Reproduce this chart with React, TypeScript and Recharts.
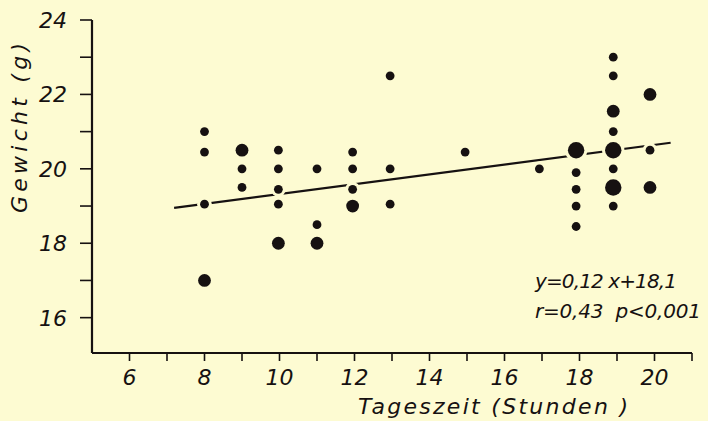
import React from 'react';
import { ScatterChart, Scatter, XAxis, YAxis } from 'recharts';

// hour of day (columns sit slightly left of the ticks late in the day)
const HOURS = [
  8, 8, 8, 8,
  9, 9, 9,
  9.97, 9.97, 9.97, 9.97, 9.97,
  11, 11, 11,
  11.95, 11.95, 11.95, 11.95,
  12.95, 12.95, 12.95,
  14.95,
  16.93,
  17.91, 17.91, 17.91, 17.91, 17.91,
  18.9, 18.9, 18.9, 18.9, 18.9, 18.9, 18.9, 18.9,
  19.88, 19.88, 19.88,
];

// body weight in g
const WEIGHTS = [
  21.0, 20.45, 19.05, 17.0,
  20.5, 20.0, 19.5,
  20.5, 20.0, 19.45, 19.05, 18.0,
  20.0, 18.5, 18.0,
  20.45, 20.0, 19.45, 19.0,
  22.5, 20.0, 19.05,
  20.45,
  20.0,
  20.5, 19.9, 19.45, 19.0, 18.45,
  23.0, 22.5, 21.55, 21.0, 20.5, 20.0, 19.5, 19.0,
  22.0, 20.5, 19.5,
];

// dot size class: 1 small, 2 medium, 3 large
const SIZES = [
  1, 1, 1, 2,
  2, 1, 1,
  1, 1, 1, 1, 2,
  1, 1, 2,
  1, 1, 1, 2,
  1, 1, 1,
  1,
  1,
  3, 1, 1, 1, 1,
  1, 1, 2, 1, 3, 1, 3, 1,
  2, 1, 2,
];

// drawn regression line ends
const FIT_HOURS = [7.19, 20.43];
const FIT_WEIGHTS = [18.95, 20.7];

const X_TICKS = [6, 7, 8, 9, 10, 11, 12, 13, 14, 15, 16, 17, 18, 19, 20, 21];
const Y_TICKS = [16, 17, 18, 19, 20, 21, 22, 23, 24];

const BG = '#fdfbd2';
const INK = '#161111';
const FONT = '"DejaVu Sans", sans-serif';
const RADIUS: Record<number, number> = { 1: 4.4, 2: 6.4, 3: 8.2 };

const points = HOURS.map((h, i) => ({ x: h, y: WEIGHTS[i], n: SIZES[i] }));
const fit = FIT_HOURS.map((h, i) => ({ x: h, y: FIT_WEIGHTS[i] }));

const Dot = (props: any) => {
  const { cx, cy, payload } = props;
  const r = RADIUS[payload.n];
  return (
    <g>
      <circle cx={cx} cy={cy} r={r + 3} fill={BG} />
      <circle cx={cx} cy={cy} r={r} fill={INK} />
    </g>
  );
};

const XTick = ({ x, y, payload }: any) => {
  const v = payload.value;
  if (v % 2 !== 0 || v > 20) return null;
  return (
    <text x={x} y={y + 22} textAnchor="middle" fontFamily={FONT} fontStyle="italic" fontSize={22} fill={INK}>
      {v}
    </text>
  );
};

const YTick = ({ x, y, payload }: any) => {
  const v = payload.value;
  if (v % 2 !== 0) return null;
  return (
    <text x={x - 11} y={y} dy="0.36em" textAnchor="end" fontFamily={FONT} fontStyle="italic" fontSize={22} fill={INK}>
      {v}
    </text>
  );
};

const XTitle = ({ viewBox }: any) => (
  <text
    x={viewBox.x + 401}
    y={viewBox.y + 61}
    textAnchor="middle"
    fontFamily={FONT}
    fontStyle="italic"
    fontSize={22}
    fill={INK}
    textLength={270}
    lengthAdjust="spacing"
  >
    Tageszeit (Stunden )
  </text>
);

const YTitle = () => (
  <text
    x={0}
    y={0}
    transform="translate(27,128) rotate(-90)"
    textAnchor="middle"
    fontFamily={FONT}
    fontStyle="italic"
    fontSize={22}
    fill={INK}
    textLength={170}
    lengthAdjust="spacing"
  >
    Gewicht (g)
  </text>
);

export default function App() {
  return (
    <div style={{ position: 'fixed', left: 0, top: 0, width: 708, height: 421, background: BG }}>
      <ScatterChart width={708} height={421} margin={{ top: 20, right: 16, bottom: 0, left: 0 }}>
        <XAxis
          type="number"
          dataKey="x"
          domain={[5, 21]}
          ticks={X_TICKS}
          interval={0}
          height={68}
          tickSize={8}
          axisLine={{ stroke: INK, strokeWidth: 2.2 }}
          tickLine={{ stroke: INK, strokeWidth: 1.6 }}
          tick={<XTick />}
          label={<XTitle />}
        />
        <YAxis
          type="number"
          dataKey="y"
          domain={[15.05, 24]}
          ticks={Y_TICKS}
          interval={0}
          width={92}
          tickSize={12}
          axisLine={{ stroke: INK, strokeWidth: 2.2 }}
          tickLine={{ stroke: INK, strokeWidth: 1.6 }}
          tick={<YTick />}
          label={<YTitle />}
        />
        <Scatter
          data={fit}
          line={{ stroke: INK, strokeWidth: 2.2 }}
          shape={() => null}
          isAnimationActive={false}
        />
        <Scatter data={points} shape={<Dot />} isAnimationActive={false} />
      </ScatterChart>
      <svg width={708} height={421} style={{ position: 'absolute', left: 0, top: 0, pointerEvents: 'none' }}>
        <text x={535} y={288} fontFamily={FONT} fontStyle="italic" fontSize={20} fill={INK} textLength={142} lengthAdjust="spacing">
          y=0,12 x+18,1
        </text>
        <text
          x={535}
          y={318}
          xmlSpace="preserve"
          fontFamily={FONT}
          fontStyle="italic"
          fontSize={20}
          fill={INK}
          textLength={166}
          lengthAdjust="spacing"
        >
          {'r=0,43  p<0,001'}
        </text>
      </svg>
    </div>
  );
}
